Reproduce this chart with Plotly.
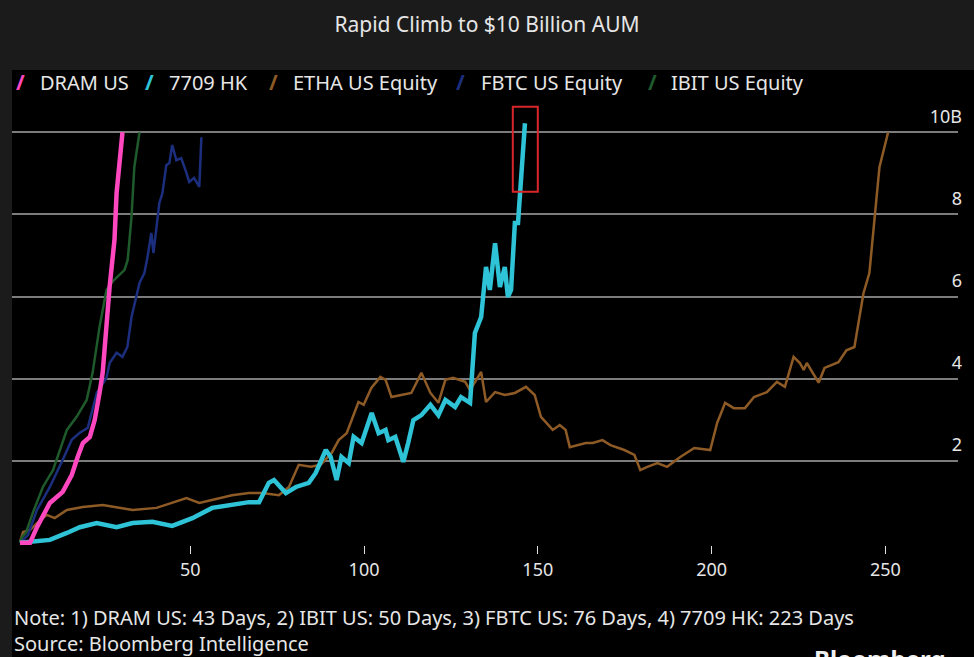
import plotly.graph_objects as go

# 各系列：上市后天数 vs 资产规模（十亿美元）
dram_days = [1, 3.9, 5.9, 9.6, 13.3, 15.9, 17.6, 19.1, 21.1, 22.5, 23.9, 24.8, 26.8, 28.2, 28.8, 29.7, 30.5]
dram_aum = [0.0, 0.0, 0.38, 0.97, 1.24, 1.65, 2.09, 2.43, 2.58, 2.99, 3.65, 4.14, 6.24, 7.38, 8.52, 9.39, 10.0]

hk7709_days = [1, 3.9, 9.6, 14.5, 18.2, 23.1, 28.8, 33.4, 39.1, 44.8, 50.6, 56.3, 62.0, 66.9, 69.8,
               72.6, 74.1, 76.1, 77.5, 80.4, 84.1, 86.1, 89.0, 90.4, 92.1, 93.5, 95.6, 97.0, 99.3,
               102.2, 104.2, 106.2, 107.0, 109.0, 111.3, 112.7, 114.2, 116.5, 119.1, 121.4, 123.4,
               126.2, 127.9, 130.5, 131.9, 133.7, 135.1, 136.2, 137.7, 139.1, 140.5, 141.4, 142.3,
               143.4, 144.3, 146.3]
hk7709_aum = [0.0, 0.02, 0.07, 0.24, 0.38, 0.48, 0.38, 0.48, 0.51, 0.41, 0.60, 0.85, 0.92, 0.99, 0.99,
              1.46, 1.53, 1.36, 1.21, 1.36, 1.46, 1.70, 2.26, 2.09, 1.53, 2.09, 1.94, 2.58, 2.43,
              3.16, 2.67, 2.75, 2.50, 2.58, 1.97, 2.43, 2.99, 3.11, 3.36, 3.11, 3.48,
              3.31, 3.55, 3.41, 5.11, 5.50, 6.72, 6.16, 7.30, 6.23, 6.72, 5.99, 6.16,
              7.79, 7.79, 10.22]

etha_days = [1, 1.5, 1.9, 3.9, 5.9, 8.7, 11.0, 14.5, 19.1, 24.8, 28.8, 33.4, 40.3, 44.8, 48.9, 52.6,
             62.0, 66.9, 70.6, 75.5, 78.4, 81.2, 84.7, 87.5, 90.7, 92.7, 95.0, 98.4, 99.9, 102.1,
             104.7, 106.2, 107.9, 110.7, 113.6, 116.5, 119.1, 121.4, 123.4, 125.6, 129.1, 130.5,
             131.9, 133.7, 135.1, 137.7, 140.5, 143.4, 146.6, 149.1, 150.9, 154.3, 156.3, 158.0,
             159.2, 161.5, 163.8, 165.8, 168.6, 170.9, 174.9, 177.8, 179.5, 181.5, 184.4, 187.2,
             191.0, 195.0, 199.6, 201.6, 203.9, 206.4, 209.6, 212.2, 215.9, 218.8, 221.1, 223.6,
             225.4, 226.5, 227.4, 230.8, 232.5, 236.5, 238.8, 241.1, 243.7, 245.4, 246.9, 248.3, 250.8]
etha_aum = [0.02, 0.14, 0.26, 0.31, 0.48, 0.68, 0.60, 0.80, 0.87, 0.92, 0.87, 0.80, 0.85, 0.97, 1.09, 0.97,
            1.16, 1.21, 1.21, 1.16, 1.36, 1.90, 1.85, 1.90, 2.19, 2.50, 2.67, 3.43, 3.36, 3.77,
            4.04, 3.97, 3.55, 3.60, 3.65, 4.14, 3.65, 3.41, 3.97, 4.02, 3.92, 3.72,
            3.92, 4.16, 3.43, 3.67, 3.60, 3.65, 3.80, 3.60, 3.07, 2.75, 2.87, 2.75,
            2.33, 2.38, 2.43, 2.43, 2.50, 2.38, 2.26, 2.14, 1.77, 1.85, 1.94, 1.85,
            2.09, 2.31, 2.26, 2.92, 3.41, 3.28, 3.28, 3.55, 3.67, 3.92, 3.80, 4.53,
            4.38, 4.21, 4.38, 3.90, 4.26, 4.40, 4.69, 4.77, 6.08, 6.57, 7.94, 9.15, 10.0]

fbtc_days = [1, 3.3, 5.9, 9.6, 13.3, 15.9, 18.2, 20.5, 23.1, 25.4, 25.9, 26.8, 28.8, 30.5, 31.9, 33.1,
             34.5, 35.4, 36.8, 37.7, 38.8, 39.4, 40.3, 41.1, 42.0, 43.1, 44.0, 44.8, 46.0, 47.4,
             48.9, 49.7, 51.1, 52.6, 53.2]
fbtc_aum = [0.0, 0.19, 0.80, 1.36, 2.02, 2.51, 2.68, 2.80, 3.65, 3.97, 4.02, 4.38, 4.63, 4.53, 4.77, 5.50,
            5.99, 6.33, 6.57, 6.96, 7.55, 7.06, 7.70, 8.28, 8.52, 9.20, 9.25, 9.69, 9.32, 9.37,
            9.01, 8.79, 8.89, 8.67, 9.88]

ibit_days = [1, 1.6, 2.7, 4.7, 7.6, 10.5, 14.5, 17.3, 20.2, 21.9, 23.9, 25.9, 27.6, 31.1, 32.0, 33.1, 33.9, 35.4]
ibit_aum = [0.0, 0.14, 0.24, 0.73, 1.36, 1.77, 2.75, 3.07, 3.48, 4.14, 5.26, 6.16, 6.36, 6.65, 6.89, 7.94, 9.15, 10.0]

y_ticks = [2, 4, 6, 8, 10]
y_labels = ["2", "4", "6", "8", "10B"]
x_ticks = [50, 100, 150, 200, 250]

FONT = "Noto Sans"
TXT = "#e6e6e6"

series = [
    ("DRAM US", dram_days, dram_aum, "#ff48c0", 4.5),
    ("7709 HK", hk7709_days, hk7709_aum, "#2ec3d6", 4.5),
    ("ETHA US Equity", etha_days, etha_aum, "#8e5b26", 2.5),
    ("FBTC US Equity", fbtc_days, fbtc_aum, "#1c2f7e", 2.5),
    ("IBIT US Equity", ibit_days, ibit_aum, "#1e5a2c", 2.5),
]

fig = go.Figure()
# 先画细线，再画粗线，使粉色/青色在最上层
for name, xs, ys, color, width in [series[2], series[3], series[4], series[1], series[0]]:
    fig.add_trace(go.Scatter(x=xs, y=ys, mode="lines", name=name, showlegend=False,
                             line=dict(color=color, width=width)))

# 图例：彭博风格的斜杠标记（像素位置换算到 paper 坐标）
W = 950.0
slash_px = [14, 144, 268, 456, 649]
text_px = [38, 168, 292, 481, 672]
leg_y = 1 + (100 - 82) / 445.0
for (name, _, _, color, _), sx, tx in zip(series, slash_px, text_px):
    fig.add_annotation(xref="paper", yref="paper", x=(sx - 12) / W, y=leg_y, xanchor="left",
                       yanchor="middle", text="<b>/</b>", showarrow=False,
                       font=dict(size=21, color=color, family=FONT))
    fig.add_annotation(xref="paper", yref="paper", x=(tx - 12) / W, y=leg_y, xanchor="left",
                       yanchor="middle", text=name, showarrow=False,
                       font=dict(size=20, color=TXT, family=FONT))

# 标题区和左侧条为深灰，图表区为黑色
fig.add_shape(type="rect", xref="paper", yref="paper", x0=0, x1=1.1, y0=-0.5, y1=1.0674,
              fillcolor="black", line_width=0, layer="below")

# 红色框标注
fig.add_shape(type="rect", x0=142.8, x1=150.0, y0=8.55, y1=10.62,
              line=dict(color="#d8262b", width=2))

fig.add_annotation(xref="paper", yref="paper", x=0.0, y=-(617 - 545) / 445.0, xanchor="left",
                   yanchor="middle",
                   text="Note: 1) DRAM US: 43 Days, 2) IBIT US: 50 Days, 3) FBTC US: 76 Days, 4) 7709 HK: 223 Days",
                   showarrow=False, font=dict(size=20, color=TXT, family=FONT))
fig.add_annotation(xref="paper", yref="paper", x=0.0, y=-(643 - 545) / 445.0, xanchor="left",
                   yanchor="middle", text="Source: Bloomberg Intelligence",
                   showarrow=False, font=dict(size=20, color=TXT, family=FONT))
fig.add_annotation(xref="paper", yref="paper", x=(815 - 12) / W, y=-(640 - 545) / 445.0,
                   xanchor="left", yanchor="top", text="<b>Bloomberg</b>", showarrow=False,
                   font=dict(size=24, color="#f0f0f0", family=FONT))

fig.update_layout(
    width=974, height=657,
    margin=dict(l=12, r=12, t=100, b=112),
    paper_bgcolor="#1b1b1b", plot_bgcolor="black",
    title=dict(text="Rapid Climb to $10 Billion AUM", x=0.5, xanchor="center", y=1 - 25 / 657.0,
               yanchor="middle", font=dict(size=21, color=TXT, family=FONT)),
    font=dict(family=FONT, color=TXT, size=18),
    showlegend=False,
    xaxis=dict(range=[-1.29, 270.9], tickvals=x_ticks, showgrid=False, zeroline=False,
               showline=False, ticks="outside", ticklen=8, tickcolor="#dddddd", tickwidth=1,
               tickfont=dict(size=18, color=TXT)),
    yaxis=dict(range=[-0.054, 10.787], side="right", tickvals=y_ticks, ticktext=y_labels,
               ticklabelposition="inside top", ticklabelstandoff=-7, ticklabelshift=-3,
               showgrid=True, gridcolor="#7c7c7c", gridwidth=1.5, zeroline=False, showline=False,
               tickfont=dict(size=18, color=TXT)),
)

fig.write_html("out.html", config={"displayModeBar": False},
               post_script="document.body.style.margin='0';")
